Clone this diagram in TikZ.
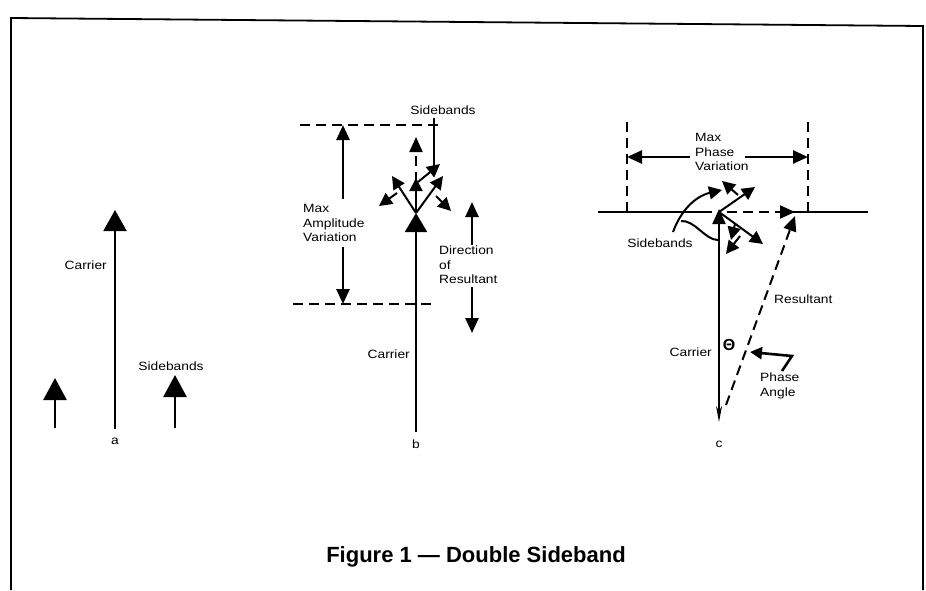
\documentclass[tikz,border=0pt]{standalone}
\usepackage{fontspec}
\setmainfont{Liberation Sans}
\newfontfamily\widefont{Liberation Sans}[FakeStretch=1.15]
\usetikzlibrary{arrows.meta, positioning}

\begin{document}
\begin{tikzpicture}[x=1pt, y=-1pt,
  lbl/.style={font=\widefont\fontsize{12}{14.5}\selectfont, inner sep=0pt},
  vec/.style={line width=2.6pt},
  thinvec/.style={line width=2pt},
  dashline/.style={line width=2pt, dash pattern=on 10pt off 6pt},
  bigtri/.tip={Triangle[length=21pt, width=23pt]},
  midtri/.tip={Triangle[length=15pt, width=13pt]},
  smalltri/.tip={Triangle[length=13pt, width=13pt]}]
  \useasboundingbox (0,0) rectangle (926,590);
  % Frame (open at the bottom)
  \draw[line width=1.8pt] (11,590) -- (11,18) -- (923,26) -- (923,590);

  % --- a: carrier and two sidebands
  \coordinate (aO) at (115,429);
  \coordinate (aT) at (115,210);
  \draw[thinvec, -{bigtri}] (aO) -- (aT);
  \draw[vec, -{Triangle[length=22pt, width=23pt]}] (55,428) -- (55,378);
  \draw[vec, -{Triangle[length=22pt, width=23pt]}] (175,428) -- (175,375);
  \node[lbl, anchor=east] (aCarrier) at (107,265) {Carrier};
  \node[lbl] (aSide) at (171,366) {Sidebands};
  \node[lbl] (aName) at (115,441) {a};

  % --- b: amplitude modulation
  \coordinate (bO) at (416,432);
  \coordinate (bT) at (416,213);
  \draw[thinvec, -{Triangle[length=19pt, width=22pt]}] (bO) -- (bT);
  \draw[dashline] (300,125) -- (438,125);
  \draw[dashline] (293,304) -- (437,304);
  \draw[vec, -{midtri}] (343,199) -- (343,125);
  \draw[vec, -{midtri}] (343,247) -- (343,304);
  \node[lbl, align=left, anchor=west] (bMax) at (303,223) {Max\\Amplitude\\Variation};
  % sideband positions at the carrier tip
  \draw[thinvec, -{smalltri}] (bT) -- (392,176);
  \draw[thinvec, -{smalltri}] (bT) -- (443,176);
  \draw[thinvec, -{smalltri}] (bT) -- (416,178);
  \draw[dashline, -{midtri}] (416,182) -- (416,137);
  \draw[thinvec, -{smalltri}] (418,182) -- (440,164);
  \draw[thinvec, -{smalltri}] (397,193) -- (379,206);
  \draw[thinvec, -{smalltri}] (436,196) -- (451,211);
  \node[lbl] (bSide) at (443,110) {Sidebands};
  \draw[thinvec] (434,118) -- (434,168);
  % direction of resultant
  \draw[vec, -{midtri}] (472,245) -- (472,202);
  \draw[vec, -{midtri}] (472,287) -- (472,333);
  \node[lbl, align=left, anchor=west] (bDir) at (439,265) {Direction\\of\\Resultant};
  \node[lbl, anchor=east] (bCarrier) at (410,354) {Carrier};
  \node[lbl] (bName) at (416,444) {b};

  % --- c: phase modulation
  \coordinate (cO) at (719,422);
  \coordinate (cT) at (719,212);
  \draw[thinvec] (598,212) -- (712,212);
  \draw[thinvec] (793,212) -- (868,212);
  \draw[dashline, -{midtri}] (727,212) -- (795,212);
  \draw[dashline] (627,122) -- (627,212);
  \draw[dashline] (808,122) -- (808,212);
  \draw[vec, -{midtri}] (690,157) -- (627,157);
  \draw[vec, -{midtri}] (745,157) -- (808,157);
  \node[lbl, align=left, anchor=west] (cMax) at (695,152) {Max\\Phase\\Variation};
  \draw[thinvec, -{Stealth[length=16pt, width=6pt]}] (cT) -- (cO);
  \draw[thinvec, -{Triangle[length=15pt, width=13pt]}] (719,228) -- (719,209);
  % sideband positions
  \draw[thinvec, -{smalltri}] (cT) -- (755,187);
  \draw[thinvec, -{smalltri}] (738,195) -- (722,181);
  \draw[thinvec, -{smalltri}] (cT) -- (763,244);
  \draw[thinvec, -{smalltri}] (735,224) -- (731,240);
  \draw[thinvec, -{smalltri}] (740,236) -- (726,254);
  \draw[thinvec, -{smalltri}] (673,232) .. controls (683,205) and (700,195) .. (722,190);
  \draw[thinvec] (681,221) .. controls (695,220) and (705,240) .. (718,240);
  \node[lbl] (cSide) at (660,243) {Sidebands};
  % resultant and phase angle
  \draw[dashline, -{midtri}] (726,405) -- (795,216);
  \node[lbl, anchor=west] (cRes) at (774,299) {Resultant};
  \node[font=\fontsize{16}{16}\selectfont\bfseries, inner sep=0pt] (cTheta) at (729,345) {Θ};
  \draw[vec, -{Triangle[length=12pt, width=12pt]}] (782,371) -- (792,356) -- (750,352);
  \node[lbl, align=left, anchor=west] (cPhase) at (760,386) {Phase\\Angle};
  \node[lbl, anchor=east] (cCarrier) at (712,352) {Carrier};
  \node[lbl] (cName) at (719,444) {c};

  % Caption
  \node[font=\fontsize{22}{26}\selectfont\bfseries] (caption) at (476,557) {Figure 1 — Double Sideband};
\end{tikzpicture}
\end{document}
